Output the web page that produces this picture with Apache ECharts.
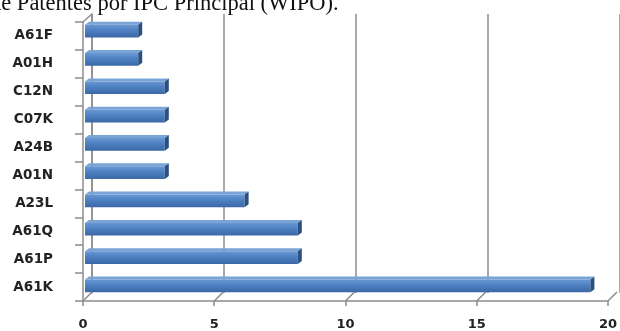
<!DOCTYPE html>
<html>
<head>
<meta charset="utf-8">
<script src="https://cdn.jsdelivr.net/npm/echarts@6/dist/echarts.min.js"></script>
<style>
  html, body { margin: 0; padding: 0; background: #fff; }
  #chart { width: 620px; height: 331px; }
</style>
</head>
<body>
<div id="chart"></div>
<script>
// IPC main groups, top to bottom
const categories = ['A61F', 'A01H', 'C12N', 'C07K', 'A24B', 'A01N', 'A23L', 'A61Q', 'A61P', 'A61K'];
// number of patents per main IPC group
const patentCounts = [2, 2, 3, 3, 3, 3, 6, 8, 8, 19];
// value axis ticks
const tickValues = [0, 5, 10, 15, 20];
const titleText = 'de Patentes por IPC Principal (WIPO).';

const AXIS_GRAY = '#8c8c8c';
const LABEL_FONT = { fontFamily: 'DejaVu Sans', fontWeight: 'bold', fontSize: 13.5, color: '#222' };

// pseudo-3D depth of the chart box (floor / wall offset) and of the bars
const WALL_DX = 9, WALL_DY = -9;
const BAR_DX = 4, BAR_DY = -3;

const chart = echarts.init(document.getElementById('chart'), null, { renderer: 'canvas' });

const valueAxisBase = { type: 'value', min: tickValues[0], max: tickValues[tickValues.length - 1], interval: 5 };

chart.setOption({
  animation: false,
  backgroundColor: '#fff',
  title: {
    text: titleText,
    left: -10, top: -7, padding: 0,
    textStyle: { fontFamily: 'Liberation Serif', fontWeight: 'normal', fontSize: 22.5, color: '#111', lineHeight: 22 }
  },
  grid: [
    { left: 83, top: 22, width: 532, height: 281 },   // front frame (labels)
    { left: 92, top: 14, width: 532, height: 279 },   // back wall (grid lines)
    { left: 85, top: 17, width: 532, height: 283 }    // bar plane
  ],
  xAxis: [
    Object.assign({}, valueAxisBase, {
      gridIndex: 0,
      axisLine: { show: true, lineStyle: { color: AXIS_GRAY, width: 1.5 } },
      axisTick: { show: true, length: 5, lineStyle: { color: AXIS_GRAY, width: 1.5 } },
      axisLabel: Object.assign({ margin: 17 }, LABEL_FONT, { fontSize: 13 }),
      splitLine: { show: false }
    }),
    Object.assign({}, valueAxisBase, {
      gridIndex: 1,
      axisLine: { show: false }, axisTick: { show: false }, axisLabel: { show: false },
      splitLine: { show: true, lineStyle: { color: AXIS_GRAY, width: 1.5 } }
    }),
    Object.assign({}, valueAxisBase, { gridIndex: 2, show: false, splitLine: { show: false } })
  ],
  yAxis: [
    {
      type: 'category', gridIndex: 0, data: categories, inverse: true,
      axisLine: { show: true, lineStyle: { color: AXIS_GRAY, width: 1.5 } },
      axisTick: { show: true, length: 8, lineStyle: { color: AXIS_GRAY, width: 1.5 } },
      axisLabel: Object.assign({ margin: 30 }, LABEL_FONT)
    },
    {
      type: 'category', gridIndex: 1, data: categories, inverse: true,
      axisLine: { show: true, lineStyle: { color: AXIS_GRAY, width: 1.5 } },
      axisTick: { show: false }, axisLabel: { show: false }
    },
    { type: 'category', gridIndex: 2, data: categories, inverse: true, show: false }
  ],
  series: [
    {
      // slanted floor ticks joining the front axis to the back wall
      type: 'custom', name: 'floor', xAxisIndex: 0, yAxisIndex: 0, silent: true, z: 1,
      data: tickValues.map(v => [v, categories.length - 1]),
      renderItem: function (params, api) {
        const p = api.coord([api.value(0), api.value(1)]);
        const band = api.size([0, 1])[1];
        const y = p[1] + band / 2;
        return {
          type: 'line',
          shape: { x1: p[0], y1: y, x2: p[0] + WALL_DX, y2: y + WALL_DY },
          style: { stroke: AXIS_GRAY, lineWidth: 1.5 }
        };
      }
    },
    {
      // top corner of the side wall
      type: 'custom', name: 'wallTop', xAxisIndex: 0, yAxisIndex: 0, silent: true, z: 1,
      data: [[0, 0]],
      renderItem: function (params, api) {
        const p = api.coord([api.value(0), api.value(1)]);
        const band = api.size([0, 1])[1];
        const y = p[1] - band / 2;
        return {
          type: 'line',
          shape: { x1: p[0], y1: y, x2: p[0] + WALL_DX, y2: y + WALL_DY + 1 },
          style: { stroke: AXIS_GRAY, lineWidth: 1.5 }
        };
      }
    },
    {
      // 3D-looking bars: front face, top face and dark end face
      type: 'custom', name: 'Patentes', xAxisIndex: 2, yAxisIndex: 2, z: 3,
      data: patentCounts.map((v, i) => [v, i]),
      renderItem: function (params, api) {
        const v = api.value(0), i = api.value(1);
        const s = api.coord([0, i]);
        const e = api.coord([v, i]);
        const h = api.size([0, 1])[1] * 0.45;
        const top = s[1] - h / 2;
        const x0 = s[0], x1 = e[0];
        return {
          type: 'group',
          children: [
            {
              type: 'polygon',
              shape: { points: [[x0, top], [x0 + BAR_DX, top + BAR_DY], [x1 + BAR_DX, top + BAR_DY], [x1, top]] },
              style: { fill: '#7aa3d6' }
            },
            {
              type: 'rect',
              shape: { x: x0, y: top, width: x1 - x0, height: h },
              style: {
                fill: new echarts.graphic.LinearGradient(0, 0, 0, 1, [
                  { offset: 0, color: '#6a98d3' },
                  { offset: 0.45, color: '#4d80c1' },
                  { offset: 1, color: '#3b68a6' }
                ])
              }
            },
            {
              type: 'polygon',
              shape: { points: [[x1, top], [x1 + BAR_DX, top + BAR_DY], [x1 + BAR_DX, top + BAR_DY + h], [x1, top + h]] },
              style: { fill: '#2b4f80' }
            }
          ]
        };
      }
    }
  ]
});
</script>
</body>
</html>
